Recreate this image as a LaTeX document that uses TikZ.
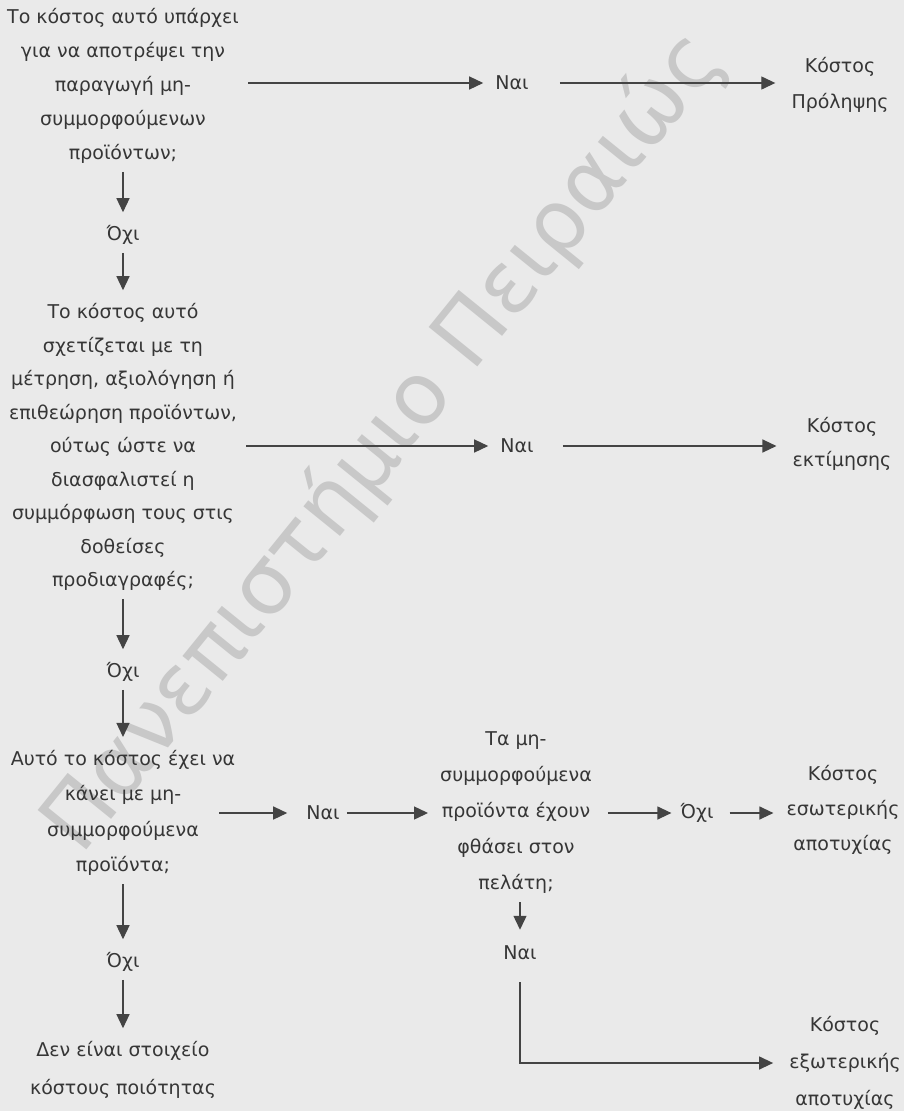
\documentclass[tikz,border=0pt]{standalone}
\usepackage{fontspec}
\setmainfont{DejaVu Sans}
\usetikzlibrary{arrows.meta}

\definecolor{paper}{HTML}{EAEAEA}
\definecolor{ink}{HTML}{363636}
\definecolor{rule}{HTML}{444444}
\definecolor{stamp}{HTML}{C8C8C8}

\tikzset{
  txt/.style={font=\fontsize{19}{#1}\selectfont, text=ink, align=center,
              inner xsep=4pt, inner ysep=3pt},
  txt/.default=34,
  arr/.style={draw=rule, line width=1.3pt, -{Triangle[length=14pt,width=13pt]}},
  down/.style={arr, shorten <=5pt, shorten >=10pt}
}

\begin{document}
\begin{tikzpicture}[x=1pt,y=-1pt]
  % paper
  \fill[paper] (0,0) rectangle (904,1111);
  \useasboundingbox (0,0) rectangle (904,1111);

  % diagonal stamp across the page
  \node[rotate=51, font=\fontsize{86}{86}\selectfont, text=stamp, inner sep=0pt]
    (stampText) at (384,442) {Πανεπιστήμιο Πειραιώς};

  % ---- left column: the chain of questions ----
  \node[txt] (q1) at (123,86)
    {Το κόστος αυτό υπάρχει\\για να αποτρέψει την\\παραγωγή μη-\\συμμορφούμενων\\προϊόντων;};
  \node[txt] (no1) at (123,235) {Όχι};
  \node[txt=33.5] (q2) at (123,447)
    {Το κόστος αυτό\\σχετίζεται με τη\\μέτρηση, αξιολόγηση ή\\επιθεώρηση προϊόντων,\\ούτως ώστε να\\διασφαλιστεί η\\συμμόρφωση τους στις\\δοθείσες\\προδιαγραφές;};
  \node[txt] (no2) at (123,672) {Όχι};
  \node[txt=35.5] (q3) at (123,813)
    {Αυτό το κόστος έχει να\\κάνει με μη-\\συμμορφούμενα\\προϊόντα;};
  \node[txt] (no4) at (123,962) {Όχι};
  \node[txt=38] (q5) at (123,1070) {Δεν είναι στοιχείο\\κόστους ποιότητας};

  % ---- right-hand answers ----
  \node[txt] (n1) at (512,83) {Ναι};
  \node[txt=36] (c1) at (840,85) {Κόστος\\Πρόληψης};

  \node[txt] (n2) at (517,446) {Ναι};
  \node[txt=34] (c2) at (842,444) {Κόστος\\εκτίμησης};

  \node[txt] (n3) at (323,813) {Ναι};
  \node[txt=36] (q4) at (516,813)
    {Τα μη-\\συμμορφούμενα\\προϊόντα έχουν\\φθάσει στον\\πελάτη;};
  \node[txt] (no3) at (697,813) {Όχι};
  \node[txt=35] (c3) at (843,810) {Κόστος\\εσωτερικής\\αποτυχίας};

  \node[txt] (n4) at (520,953) {Ναι};
  \node[txt=37] (c4) at (845,1063) {Κόστος\\εξωτερικής\\αποτυχίας};

  % ---- vertical connectors, left column ----
  \draw[down] (q1) -- (no1);
  \draw[down] (no1) -- (q2);
  \draw[down] (q2) -- (no2);
  \draw[down] (no2) -- (q3);
  \draw[down] (q3) -- (no4);
  \draw[down] (no4) -- (q5);

  % ---- horizontal connectors ----
  \draw[arr, shorten <=5pt, shorten >=8pt] (q1.east |- n1) -- (n1);
  \draw[arr, shorten <=27pt, shorten >=12pt] (n1) -- (c1.west |- n1);

  \draw[arr, shorten <=5pt, shorten >=8pt] (q2.east |- n2) -- (n2);
  \draw[arr, shorten <=25pt, shorten >=12pt] (n2) -- (c2.west |- n2);

  \draw[arr, shorten <=-20pt, shorten >=15pt] (q3.east |- n3) -- (n3);
  \draw[arr, shorten <=3pt, shorten >=8pt] (n3) -- (q4.west |- n3);
  \draw[arr, shorten <=12pt, shorten >=5pt] (q4.east |- no3) -- (no3);
  \draw[arr, shorten <=12pt, shorten >=9pt] (no3) -- (c3.west |- no3);

  % ---- customer branch ----
  \draw[arr, shorten <=5pt, shorten >=13pt] (q4.south -| n4) -- (n4);
  \draw[arr, shorten <=19pt, shorten >=12pt] (n4) |- (c4);
\end{tikzpicture}
\end{document}
